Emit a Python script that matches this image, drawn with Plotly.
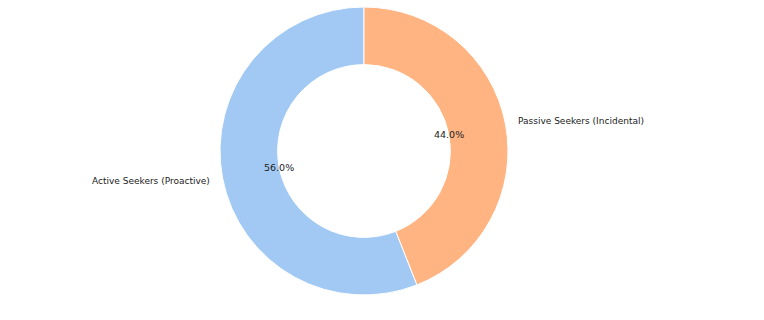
import math
import plotly.graph_objects as go

labels = ["Active Seekers (Proactive)", "Passive Seekers (Incidental)"]
values = [56.0, 44.0]
colors = ["#a1c9f4", "#ffb482"]

W, H = 764, 320
cx_px, cy_px, R_px = 364, 151, 144
hole = 0.6

dom_x = [(cx_px - R_px) / W, (cx_px + R_px) / W]
dom_y = [(H - (cy_px + R_px)) / H, (H - (cy_px - R_px)) / H]

total = sum(values)
# first slice starts at 12 o'clock and runs counterclockwise (matplotlib startangle=90)
rot = -360.0 * values[0] / total

fig = go.Figure(go.Pie(
    labels=labels, values=values, sort=False, direction="counterclockwise",
    rotation=rot, hole=hole, textinfo="none", hoverinfo="label+percent",
    marker=dict(colors=colors, line=dict(color="white", width=1)),
    domain=dict(x=dom_x, y=dom_y), showlegend=False,
))

# labels and percentages placed like matplotlib (labeldistance 1.1, pctdistance 0.6)
start = 90.0
annotations = []
for lab, v in zip(labels, values):
    span = 360.0 * v / total
    mid = math.radians(start + span / 2)
    start += span
    c, s = math.cos(mid), math.sin(mid)
    lx = cx_px + 1.1 * R_px * c
    ly = cy_px - 1.1 * R_px * s
    annotations.append(dict(
        x=lx / W, y=1 - ly / H, xref="paper", yref="paper", text=lab,
        showarrow=False, xanchor="left" if c > 0 else "right", yanchor="middle",
        xshift=-2.5 if c > 0 else 2.5, borderpad=0,
        font=dict(family="DejaVu Sans", size=9, color="#222222"),
    ))
    px = cx_px + 0.6 * R_px * c
    py = cy_px - 0.6 * R_px * s
    pct = 100.0 * v / total
    annotations.append(dict(
        x=px / W, y=1 - py / H, xref="paper", yref="paper", text=f"{pct:.1f}%",
        showarrow=False, xanchor="center", yanchor="middle",
        font=dict(family="DejaVu Sans", size=9.5, color="#222222"),
    ))

fig.update_layout(
    width=W, height=H, margin=dict(l=0, r=0, t=0, b=0),
    paper_bgcolor="white", plot_bgcolor="white", annotations=annotations,
)
fig.write_html("out.html")
